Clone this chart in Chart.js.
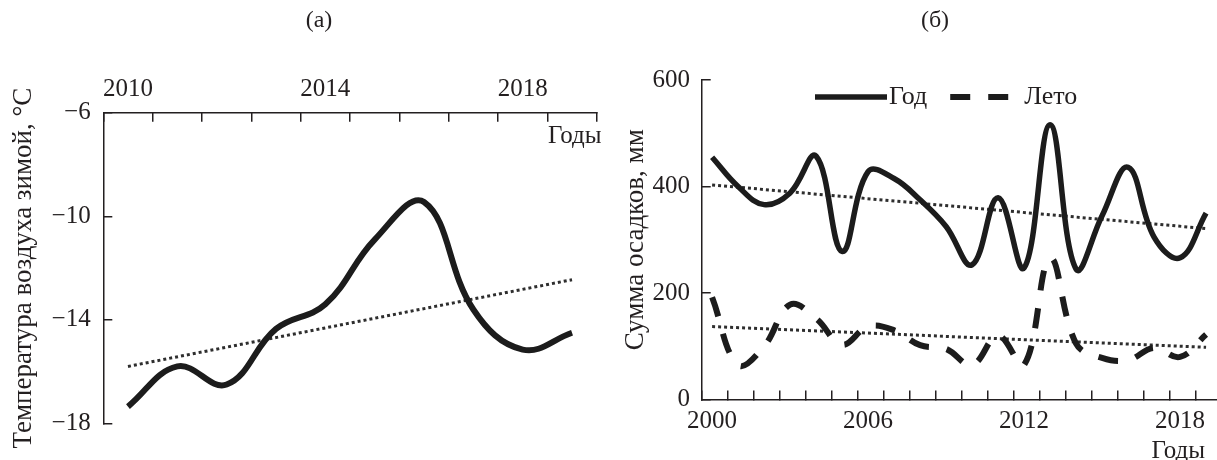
<!DOCTYPE html>
<html>
<head>
<meta charset="utf-8">
<script src="https://cdn.jsdelivr.net/npm/chart.js@4/dist/chart.umd.min.js"></script>
<style>
  html, body { margin: 0; padding: 0; background: #fff; }
  body { width: 1217px; height: 460px; position: relative; overflow: hidden; }
  canvas { position: absolute; top: 0; }
  #winterChart { left: 0; }
  #rainChart { left: 608px; }
</style>
</head>
<body>
<canvas id="winterChart" width="608" height="460"></canvas>
<canvas id="rainChart" width="609" height="460"></canvas>
<script>
// ---- (а) winter air temperature ----
const winterYears = ['2010', '2011', '2012', '2013', '2014', '2015', '2016', '2017', '2018', '2019'];
const winterTemp = [-17.35, -15.8, -16.5, -14.35, -13.4, -10.9, -9.45, -13.6, -15.15, -14.5];
const winterTrendYears = ['2010', '2019'];
const winterTrend = [-15.8, -12.45];
const winterTickYears = ['2010', '2014', '2018'];
const winterTicks = [-18, -14, -10, -6];

// ---- (б) precipitation sums ----
const rainYears = [2000, 2001, 2002, 2003, 2004, 2005, 2006, 2007, 2008, 2009,
                   2010, 2011, 2012, 2013, 2014, 2015, 2016, 2017, 2018, 2019];
const rainAnnual = [455, 400, 366, 388, 457, 278, 428, 415, 375, 325,
                    253, 379, 247, 516, 245, 345, 436, 305, 266, 350];
const rainSummer = [192, 65, 100, 178, 152, 103, 137, 130, 102, 95,
                    65, 120, 65, 265, 105, 78, 74, 97, 80, 122];
const rainTrendYears = [2000, 2019];
const rainAnnualTrend = [403, 321];
const rainSummerTrend = [137, 98];
const rainTickYears = [2000, 2006, 2012, 2018];
const rainTicks = [0, 200, 400, 600];

const ink = '#231f20';
const serif = '"Liberation Serif", "Times New Roman", serif';
Chart.defaults.font.family = serif;
Chart.defaults.color = ink;

const minus = v => (v < 0 ? '\u2212' + Math.abs(v) : String(v));

// text that sits outside the normal title/legend boxes
const notesPlugin = {
  id: 'notes',
  afterDraw(chart, args, opts) {
    const {ctx, chartArea} = chart;
    ctx.save();
    ctx.fillStyle = ink;
    ctx.textBaseline = 'middle';
    (opts.items || []).forEach(it => {
      ctx.font = it.size + 'px ' + serif;
      ctx.textAlign = it.align || 'center';
      let x = it.x, y = it.y;
      if (it.box === 'area') {
        x = (it.fromRight ? chartArea.right : chartArea.left) + it.x;
        y = (it.fromBottom ? chartArea.bottom : chartArea.top) + it.y;
      }
      ctx.fillText(it.text, x, y);
    });
    ctx.restore();
  }
};

// line key drawn inside the plot, like in the figure
const keyPlugin = {
  id: 'lineKey',
  afterDraw(chart, args, opts) {
    if (!opts.items) return;
    const {ctx, chartArea} = chart;
    let x = chartArea.left + opts.dx;
    const y = chartArea.top + opts.dy;
    ctx.save();
    ctx.font = opts.size + 'px ' + serif;
    ctx.textBaseline = 'middle';
    ctx.textAlign = 'left';
    opts.items.forEach(idx => {
      const ds = chart.data.datasets[idx];
      ctx.strokeStyle = ds.borderColor;
      ctx.lineWidth = ds.borderWidth;
      ctx.setLineDash(ds.borderDash || []);
      ctx.beginPath();
      ctx.moveTo(x, y);
      ctx.lineTo(x + opts.sample, y);
      ctx.stroke();
      x += opts.sample + 2;
      ctx.fillStyle = ink;
      ctx.fillText(ds.label, x, y);
      x += ctx.measureText(ds.label).width + opts.spacing;
    });
    ctx.restore();
  }
};

const axisLine = { color: ink, width: 1.5 };
const tickMarks = { drawOnChartArea: false, tickLength: -9, color: ink, lineWidth: 1.5 };

// ******* (а) *******
new Chart(document.getElementById('winterChart'), {
  type: 'line',
  data: {
    labels: winterYears,
    datasets: [
      {
        label: 'Температура',
        data: winterTemp,
        borderColor: '#1c1c1c',
        borderWidth: 6,
        tension: 0.4,
        pointRadius: 0
      },
      {
        label: 'Тренд',
        data: winterTrendYears.map((yr, i) => ({ x: yr, y: winterTrend[i] })),
        borderColor: '#2e2e2e',
        borderWidth: 3,
        borderDash: [3, 3],
        pointRadius: 0
      }
    ]
  },
  options: {
    responsive: false,
    animation: false,
    layout: { padding: { left: 0, top: 0, right: 11.3, bottom: 16.7 } },
    plugins: {
      legend: { display: false },
      tooltip: { enabled: false },
      notes: {
        items: [
          { text: '(а)', x: 319, y: 21, size: 24 },
          { text: 'Годы', box: 'area', fromRight: true, x: -48.7, y: 24, size: 25, align: 'left' }
        ]
      }
    },
    scales: {
      x: {
        type: 'category',
        position: 'top',
        offset: true,
        grid: { ...tickMarks, offset: true },
        border: axisLine,
        ticks: {
          autoSkip: false,
          maxRotation: 0,
          padding: 17.5,
          font: { size: 25 },
          callback(v) {
            const l = this.getLabelForValue(v);
            return winterTickYears.includes(l) ? l : '';
          }
        },
        afterFit(s) { s.height = 112.7; }
      },
      y: {
        min: winterTicks[0],
        max: winterTicks[winterTicks.length - 1],
        afterBuildTicks(s) { s.ticks = winterTicks.map(v => ({ value: v })); },
        grid: tickMarks,
        border: axisLine,
        ticks: { padding: 21.6, font: { size: 25 }, callback: minus },
        title: {
          display: true,
          text: 'Температура воздуха зимой, °C',
          font: { size: 27 },
          padding: { top: 8, bottom: 0 }
        },
        afterFit(s) { s.width = 103.3; }
      }
    }
  },
  plugins: [notesPlugin]
});

// ******* (б) *******
new Chart(document.getElementById('rainChart'), {
  type: 'line',
  data: {
    datasets: [
      {
        label: 'Год',
        data: rainYears.map((yr, i) => ({ x: yr, y: rainAnnual[i] })),
        borderColor: '#1c1c1c',
        borderWidth: 5.5,
        tension: 0.4,
        pointRadius: 0
      },
      {
        label: 'Лето',
        data: rainYears.map((yr, i) => ({ x: yr, y: rainSummer[i] })),
        borderColor: '#1c1c1c',
        borderWidth: 6,
        borderDash: [20, 18],
        tension: 0.4,
        pointRadius: 0
      },
      {
        label: 'Тренд год',
        data: rainTrendYears.map((yr, i) => ({ x: yr, y: rainAnnualTrend[i] })),
        borderColor: '#2e2e2e',
        borderWidth: 3,
        borderDash: [3, 3],
        pointRadius: 0
      },
      {
        label: 'Тренд лето',
        data: rainTrendYears.map((yr, i) => ({ x: yr, y: rainSummerTrend[i] })),
        borderColor: '#2e2e2e',
        borderWidth: 3,
        borderDash: [3, 3],
        pointRadius: 0
      }
    ]
  },
  options: {
    responsive: false,
    animation: false,
    layout: { padding: { left: 0, top: 80, right: 0, bottom: 0 } },
    plugins: {
      legend: { display: false },
      tooltip: { enabled: false },
      lineKey: { items: [0, 1], dx: 113.3, dy: 17, sample: 72, spacing: 23, size: 26 },
      notes: {
        items: [
          { text: '(б)', x: 327, y: 21, size: 24 },
          { text: 'Годы', box: 'area', fromRight: true, fromBottom: true, x: -12, y: 52, size: 25, align: 'right' }
        ]
      }
    },
    scales: {
      x: {
        type: 'linear',
        position: 'bottom',
        min: 1999.6,
        max: 2019.42,
        // tick marks sit a little left of each year, labels are shifted back onto the year
        afterBuildTicks(s) { s.ticks = rainYears.map(yr => ({ value: yr - 0.4 })); },
        grid: tickMarks,
        border: axisLine,
        ticks: {
          autoSkip: false,
          maxRotation: 0,
          padding: 16,
          labelOffset: 10.4,
          font: { size: 25 },
          callback: v => {
            const yr = Math.round(v + 0.4);
            return rainTickYears.includes(yr) ? String(yr) : '';
          }
        },
        afterFit(s) { s.height = 60.5; }
      },
      y: {
        min: rainTicks[0],
        max: rainTicks[rainTicks.length - 1],
        afterBuildTicks(s) { s.ticks = rainTicks.map(v => ({ value: v })); },
        grid: tickMarks,
        border: axisLine,
        ticks: { padding: 20.7, font: { size: 25 } },
        title: {
          display: true,
          text: 'Сумма осадков, мм',
          font: { size: 27 },
          padding: { top: 11.8, bottom: 0 }
        },
        afterFit(s) { s.width = 93.7; }
      }
    }
  },
  plugins: [notesPlugin, keyPlugin]
});
</script>
</body>
</html>
